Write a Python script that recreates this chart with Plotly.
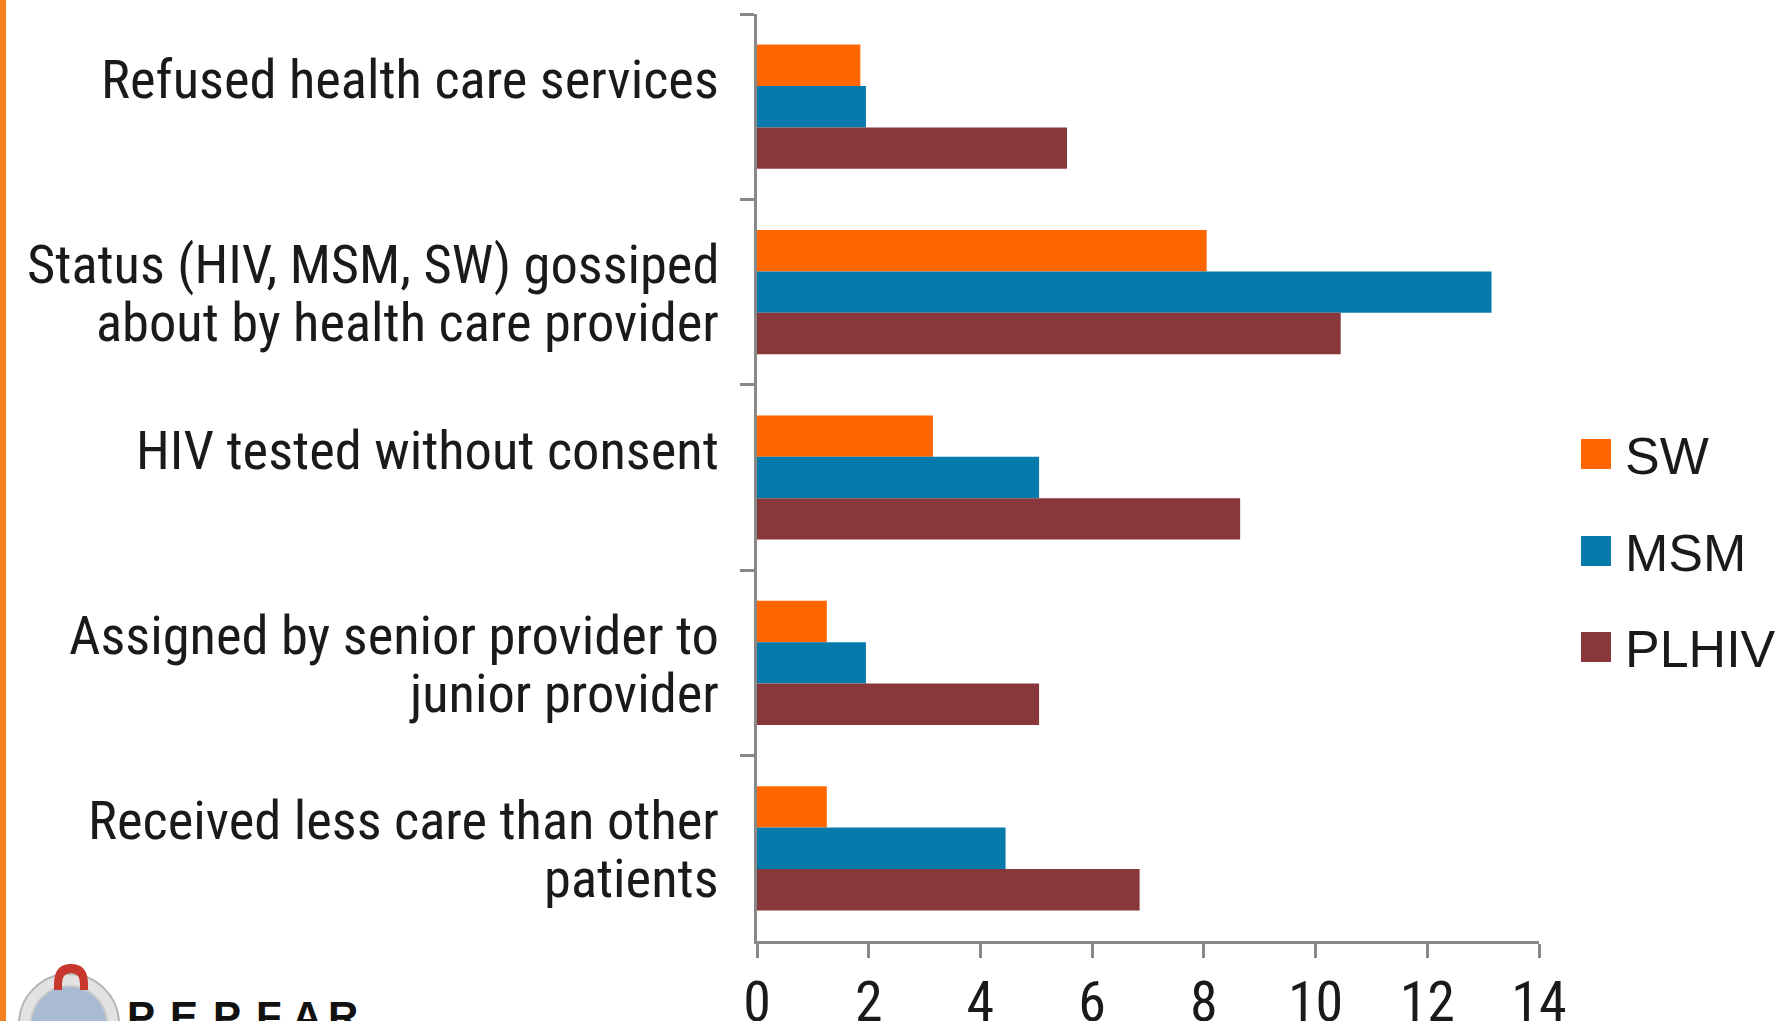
import plotly.graph_objects as go

# ---- data -------------------------------------------------------------
categories = [
    "Refused health care services",
    "Status (HIV, MSM, SW) gossiped about by health care provider",
    "HIV tested without consent",
    "Assigned by senior provider to junior provider",
    "Received less care than other patients",
]
category_lines = [
    ["Refused health care services"],
    ["Status (HIV, MSM, SW) gossiped", "about by health care provider"],
    ["HIV tested without consent"],
    ["Assigned by senior provider to", "junior provider"],
    ["Received less care than other", "patients"],
]
series_names = ["SW", "MSM", "PLHIV"]
sw_values = [1.85, 8.05, 3.15, 1.25, 1.25]
msm_values = [1.95, 13.15, 5.05, 1.95, 4.45]
plhiv_values = [5.55, 10.45, 8.65, 5.05, 6.85]
x_tick_values = [0, 2, 4, 6, 8, 10, 12, 14]
logo_letters = ["P", "E", "P", "F", "A", "R"]

# ---- style ------------------------------------------------------------
W, H = 1780, 1021
L, R, T, B = 757, 241, 14, 80
PW, PH = W - L - R, H - T - B
series_colors = {"SW": "#FF6600", "MSM": "#067AAA", "PLHIV": "#88373A"}
AXIS_GRAY = "#888888"
TEXT = "#1A1A1A"
NARROW = "Roboto Condensed, Liberation Sans Narrow, Arial Narrow, Liberation Sans, sans-serif"
REGULAR = "Liberation Sans, Arial, sans-serif"


def px_x(px):
    return (px - L) / PW


def px_y(py):
    return (H - B - py) / PH


series_values = {"SW": sw_values, "MSM": msm_values, "PLHIV": plhiv_values}

fig = go.Figure()
for name in series_names:
    fig.add_trace(go.Bar(
        name=name,
        y=categories,
        x=series_values[name],
        orientation="h",
        marker=dict(color=series_colors[name], line=dict(width=0)),
        showlegend=False,
        hoverinfo="x+name",
    ))

annotations = []
shapes = []

# category labels, drawn line by line to the left of the axis
for cat, lines in zip(categories, category_lines):
    shifts = [28, -30][: len(lines)]
    for text, dy in zip(lines, shifts):
        annotations.append(dict(
            text=text, xref="paper", yref="y", x=0, y=cat,
            xanchor="right", yanchor="middle", xshift=-36, yshift=dy,
            showarrow=False, font=dict(family=NARROW, size=54.5, color=TEXT),
        ))

# legend
legend_y = [454, 551, 647]
for name, cy in zip(series_names, legend_y):
    shapes.append(dict(
        type="rect", xref="paper", yref="paper",
        x0=px_x(1581), x1=px_x(1611), y0=px_y(cy + 15), y1=px_y(cy - 15),
        fillcolor=series_colors[name], line=dict(width=0), layer="above",
    ))
    annotations.append(dict(
        text=name, xref="paper", yref="paper", x=px_x(1623), y=px_y(cy + 2),
        xanchor="left", yanchor="middle", showarrow=False,
        font=dict(family=REGULAR, size=52, color=TEXT),
    ))

# orange slide stripe on the left edge
shapes.append(dict(
    type="rect", xref="paper", yref="paper",
    x0=px_x(0), x1=px_x(6), y0=px_y(H), y1=px_y(0),
    fillcolor="#F5821F", line=dict(width=0), layer="above",
))

# PEPFAR logo (globe seal with red arch, lettering)
gx, gy, gr = 69, 1024, 50
shapes.append(dict(
    type="circle", xref="paper", yref="paper",
    x0=px_x(gx - gr), x1=px_x(gx + gr), y0=px_y(gy + gr), y1=px_y(gy - gr),
    fillcolor="#E2E2E2", line=dict(color="#B5B5B5", width=2), layer="above",
))
gi = 38
shapes.append(dict(
    type="circle", xref="paper", yref="paper",
    x0=px_x(gx - gi), x1=px_x(gx + gi), y0=px_y(gy + gi), y1=px_y(gy - gi),
    fillcolor="#A9BBD2", line=dict(color="#C9C9C9", width=2), layer="above",
))
ax0, ay0 = 71, 984
arch = (
    f"M {px_x(ax0 - 17)},{px_y(ay0 + 6)} "
    f"L {px_x(ax0 - 17)},{px_y(ay0)} "
    f"Q {px_x(ax0 - 17)},{px_y(ay0 - 20)} {px_x(ax0)},{px_y(ay0 - 20)} "
    f"Q {px_x(ax0 + 17)},{px_y(ay0 - 20)} {px_x(ax0 + 17)},{px_y(ay0)} "
    f"L {px_x(ax0 + 17)},{px_y(ay0 + 6)} "
    f"L {px_x(ax0 + 9)},{px_y(ay0 + 6)} "
    f"L {px_x(ax0 + 9)},{px_y(ay0)} "
    f"Q {px_x(ax0 + 9)},{px_y(ay0 - 11)} {px_x(ax0)},{px_y(ay0 - 11)} "
    f"Q {px_x(ax0 - 9)},{px_y(ay0 - 11)} {px_x(ax0 - 9)},{px_y(ay0)} "
    f"L {px_x(ax0 - 9)},{px_y(ay0 + 6)} Z"
)
shapes.append(dict(
    type="path", xref="paper", yref="paper", path=arch,
    fillcolor="#C8372D", line=dict(width=0), layer="above",
))
letter_x = [127, 170, 213, 256, 292, 328]
for ch, lx in zip(logo_letters, letter_x):
    annotations.append(dict(
        text=f"<b>{ch}</b>", xref="paper", yref="paper",
        x=px_x(lx - 2), y=px_y(1016), xanchor="left", yanchor="middle",
        showarrow=False, font=dict(family=REGULAR, size=42, color="#111111"),
    ))

fig.update_layout(
    width=W, height=H,
    margin=dict(l=L, r=R, t=T, b=B, pad=0, autoexpand=False),
    paper_bgcolor="white", plot_bgcolor="white",
    barmode="group", bargap=0.33, bargroupgap=0,
    showlegend=False,
    annotations=annotations,
    shapes=shapes,
    xaxis=dict(
        range=[0, 14], tickvals=x_tick_values, automargin=False,
        ticks="outside", ticklen=14, tickwidth=2.5, tickcolor=AXIS_GRAY,
        showline=True, linecolor=AXIS_GRAY, linewidth=2.5,
        showgrid=False, zeroline=False,
        tickfont=dict(family=NARROW, size=56, color=TEXT),
        ticklabelstandoff=-4,
    ),
    yaxis=dict(
        type="category", categoryorder="array", categoryarray=categories,
        range=[4.5, -0.5], automargin=False,
        ticks="outside", tickson="boundaries", ticklen=14, tickwidth=2.5,
        tickcolor=AXIS_GRAY, showline=True, linecolor=AXIS_GRAY, linewidth=2.5,
        showgrid=False, zeroline=False, showticklabels=False,
    ),
)

fig.write_html("out.html")
